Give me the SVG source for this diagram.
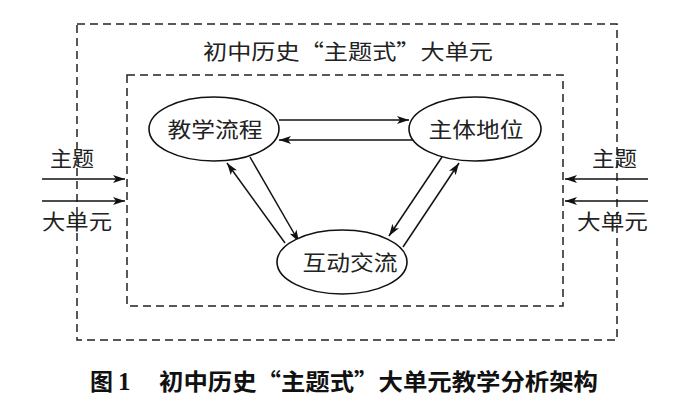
<svg xmlns="http://www.w3.org/2000/svg" width="700" height="415" viewBox="0 0 700 415">
<defs>
<marker id="ah" viewBox="0 0 12 8" refX="12" refY="4" markerWidth="12" markerHeight="8" markerUnits="userSpaceOnUse" orient="auto">
<path d="M0,0 L12,4 L0,8 L3,4 Z" fill="#111"/>
</marker>
<style>
.box{fill:none;stroke:#222;stroke-width:1.5;stroke-dasharray:8 5}
.node{fill:#fff;stroke:#111;stroke-width:1.6}
.t{font-family:"Noto Sans CJK SC","Noto Sans CJK JP",sans-serif;font-size:21px;fill:#222;font-weight:normal}
.c{text-anchor:middle}
.ln{stroke:#111;stroke-width:1.5;fill:none;marker-end:url(#ah)}
.cap{font-family:"Noto Sans CJK SC",sans-serif;font-size:23px;font-weight:bold;fill:#111}
.num{font-family:"Liberation Serif",serif;font-size:25px;font-weight:bold;fill:#111}
</style>
</defs>
<rect width="700" height="415" fill="#fff"/>
<g id="outer">
<rect class="box" x="77" y="24" width="540" height="316"/>
<text class="t" x="203" y="59" textLength="290" lengthAdjust="spacingAndGlyphs">初中历史“主题式”大单元</text>
</g>
<g id="inner">
<rect class="box" x="127" y="75" width="436" height="231"/>
</g>
<g id="connectors">
<line class="ln" x1="279" y1="120" x2="409" y2="120"/>
<line class="ln" x1="414" y1="140" x2="279" y2="140"/>
<line class="ln" x1="285" y1="243" x2="227" y2="163"/>
<line class="ln" x1="250" y1="157" x2="299" y2="242"/>
<line class="ln" x1="442" y1="157" x2="389" y2="236"/>
<line class="ln" x1="403" y1="247" x2="459" y2="163"/>
<line class="ln" x1="42" y1="179" x2="125" y2="179"/>
<line class="ln" x1="42" y1="201" x2="125" y2="201"/>
<line class="ln" x1="648" y1="179" x2="565" y2="179"/>
<line class="ln" x1="648" y1="201" x2="565" y2="201"/>
</g>
<g id="n-jiaoxue">
<ellipse class="node" cx="214" cy="129" rx="65" ry="32"/>
<text class="t c" x="215" y="137" textLength="95" lengthAdjust="spacingAndGlyphs">教学流程</text>
</g>
<g id="n-zhuti">
<ellipse class="node" cx="475" cy="129" rx="66" ry="32"/>
<text class="t c" x="476" y="137" textLength="95" lengthAdjust="spacingAndGlyphs">主体地位</text>
</g>
<g id="n-hudong">
<ellipse class="node" cx="342" cy="262" rx="65" ry="32"/>
<text class="t c" x="350" y="270" textLength="95" lengthAdjust="spacingAndGlyphs">互动交流</text>
</g>
<g id="in-left">
<text class="t" x="50" y="166" textLength="44" lengthAdjust="spacingAndGlyphs">主题</text>
<text class="t" x="42" y="229" textLength="70" lengthAdjust="spacingAndGlyphs">大单元</text>
</g>
<g id="in-right">
<text class="t" x="592" y="166" textLength="45" lengthAdjust="spacingAndGlyphs">主题</text>
<text class="t" x="577" y="229" textLength="71" lengthAdjust="spacingAndGlyphs">大单元</text>
</g>
<g id="caption">
<text class="cap" x="90" y="390">图</text>
<text class="num" x="118" y="390">1</text>
<text class="cap" x="159" y="390" textLength="439" lengthAdjust="spacingAndGlyphs">初中历史“主题式”大单元教学分析架构</text>
</g>
</svg>
